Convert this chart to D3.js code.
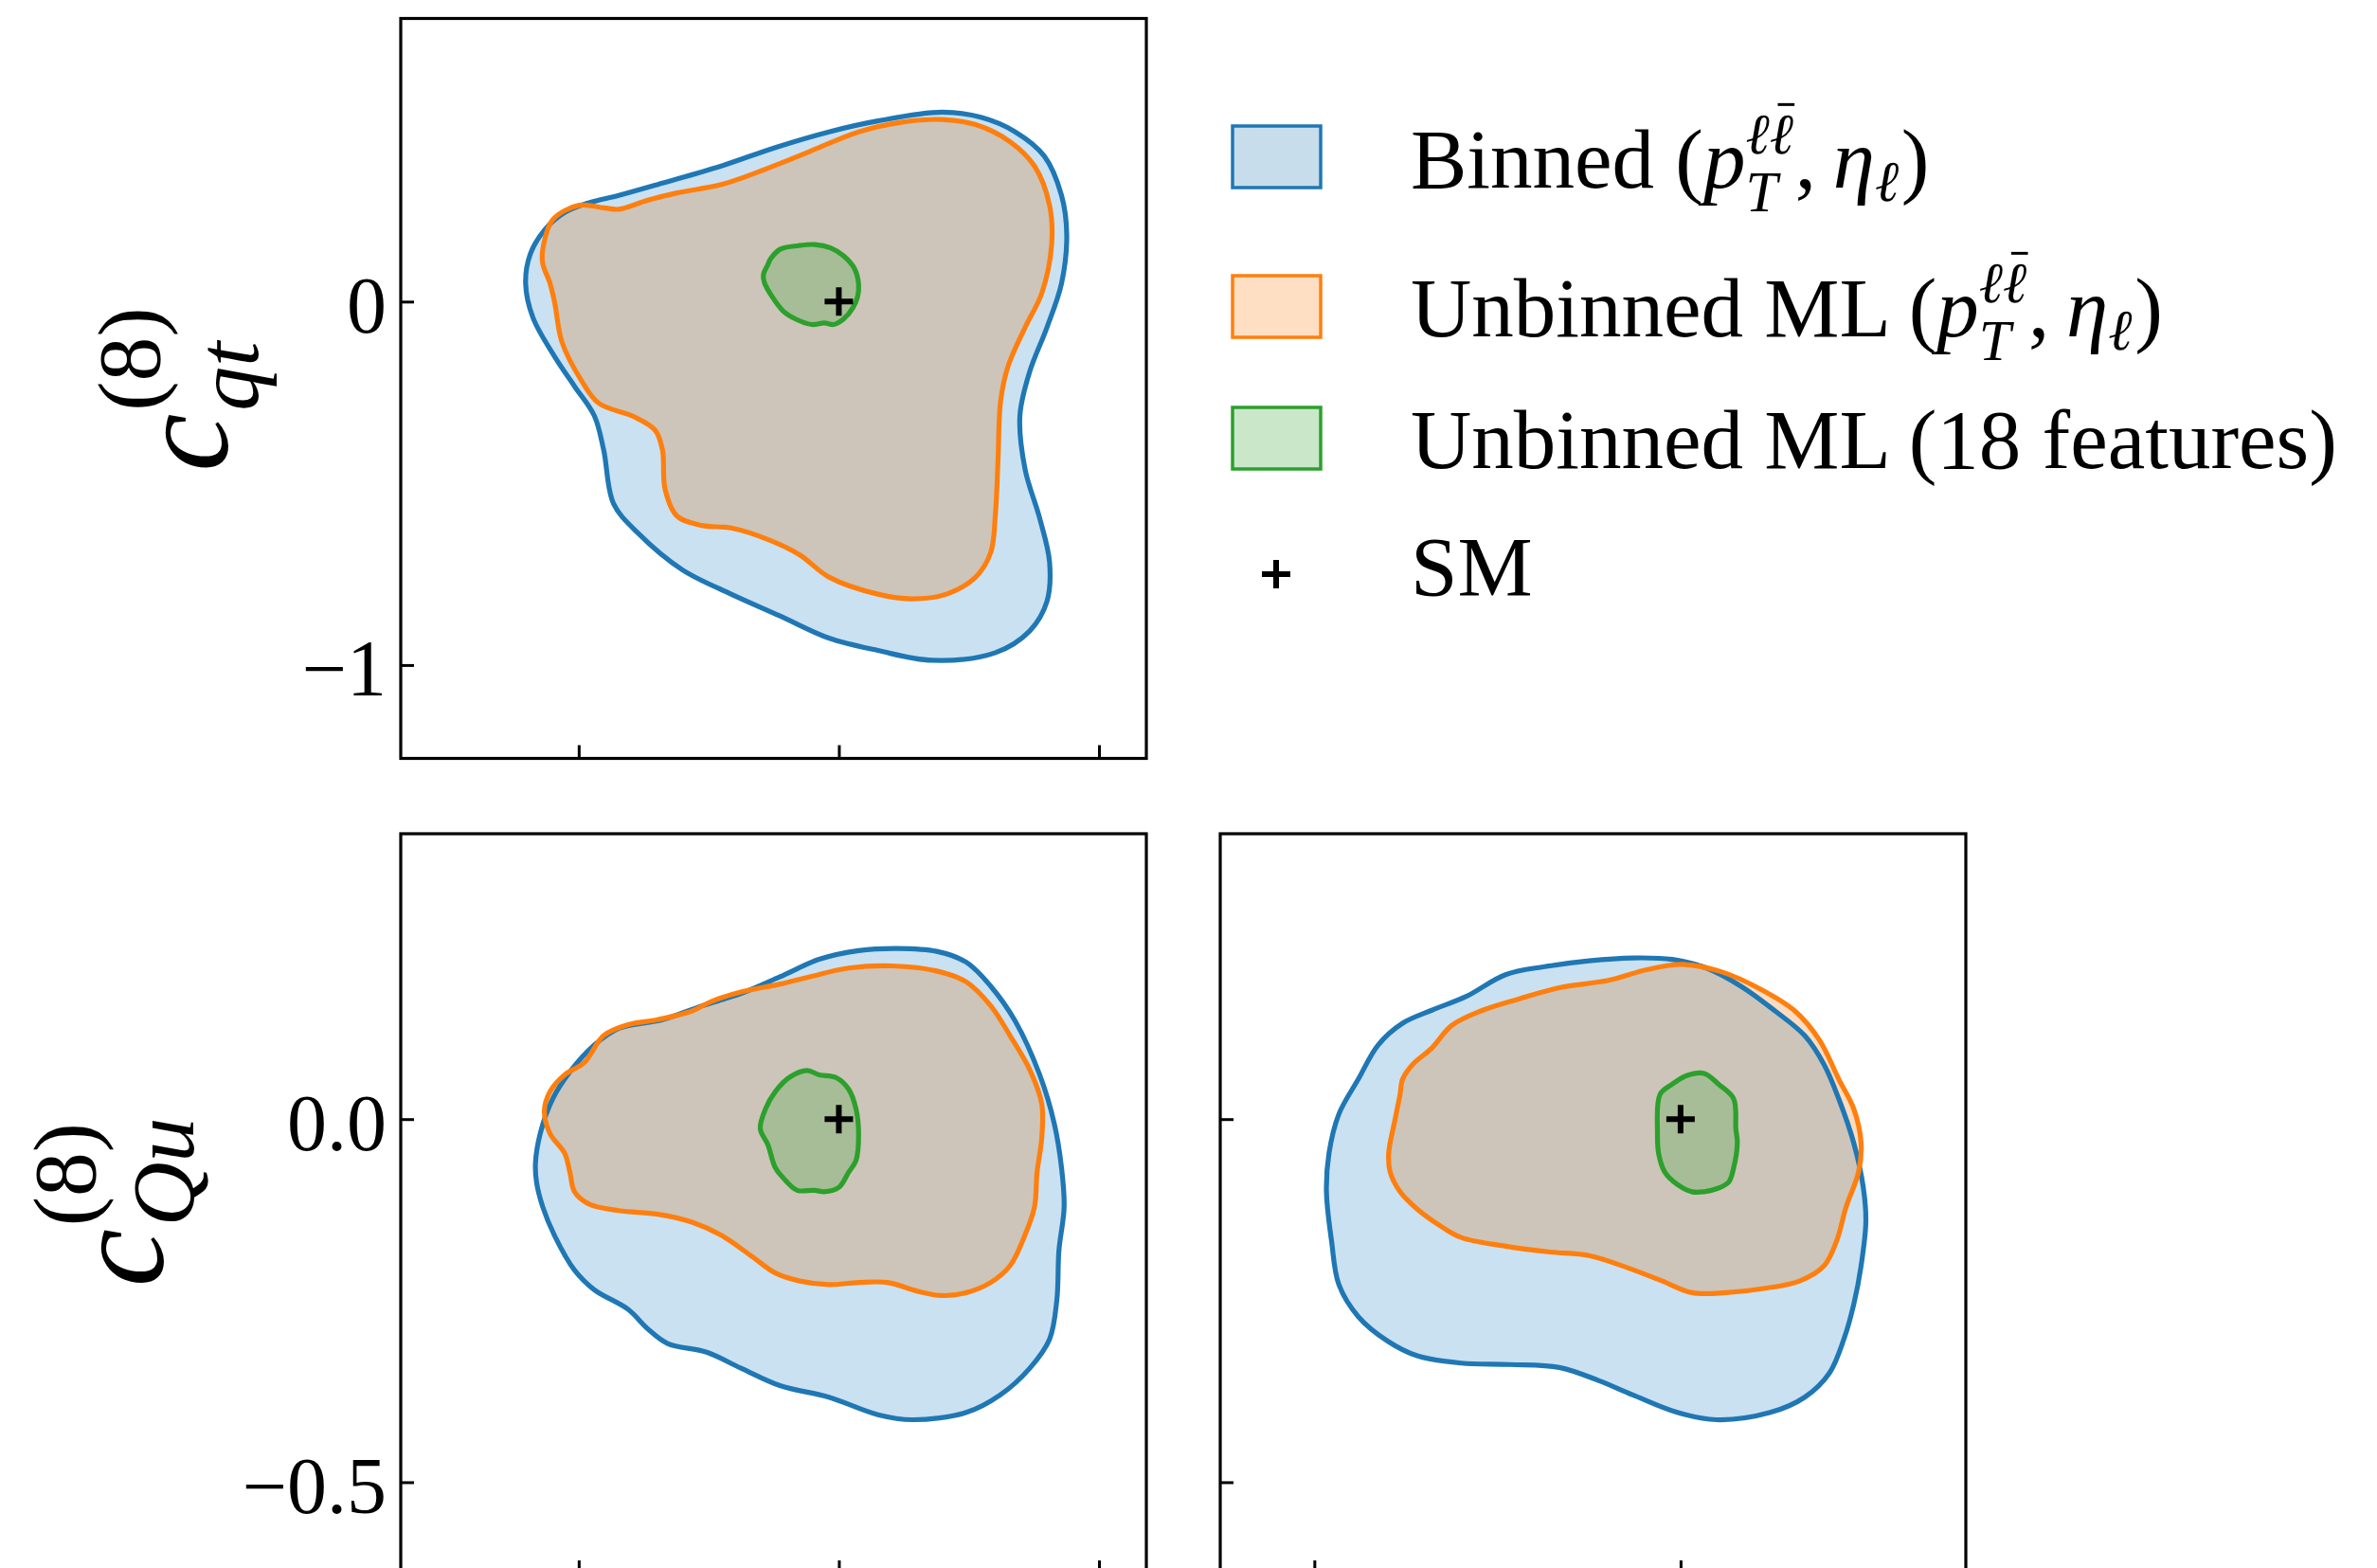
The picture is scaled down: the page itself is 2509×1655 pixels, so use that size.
<!DOCTYPE html>
<html>
<head>
<meta charset="utf-8">
<script src="https://cdn.jsdelivr.net/npm/d3@7"></script>
<style>
  html, body { margin: 0; padding: 0; background: #fff; }
  svg { display: block; }
  text { font-family: "Liberation Serif", "Times New Roman", serif; fill: #000; }
</style>
</head>
<body>
<svg id="fig" width="2509" height="1655"></svg>
<script>
// ---------------- data ----------------
// axis limits of the three coefficients
const xColRange = [-0.842, 0.591];   // first-column coefficient
const cqtRange  = [-1.257, 0.779];   // c_qt^(8)
const cquRange  = [-0.626, 0.393];   // c_Qu^(8)

// tick positions and labels
const xColTicks = [-0.5, 0, 0.5];
const cqtTicks = [-1, 0];
const cqtTickLabels = ["\u22121", "0"];
const cquTicks = [-0.5, 0];
const cquTickLabels = ["\u22120.5", "0.0"];

// Standard Model point
const smPoint = [0, 0];

// legend entries
const seriesNames = ["Binned", "Unbinned ML", "Unbinned ML (18 features)", "SM"];

// 68% contours, [x, y] pairs
// top-left: x = first-column coefficient, y = c_qt
const binnedTL = [[-0.602,0.050],[-0.593,0.131],[-0.565,0.198],[-0.527,0.245],[-0.480,0.272],[-0.423,0.292],[-0.339,0.326],[-0.226,0.373],[-0.122,0.424],[-0.019,0.467],[0.075,0.497],[0.198,0.521],[0.273,0.507],[0.339,0.467],[0.395,0.400],[0.428,0.292],[0.438,0.184],[0.428,0.050],[0.400,-0.071],[0.367,-0.192],[0.348,-0.314],[0.358,-0.462],[0.386,-0.596],[0.405,-0.717],[0.400,-0.825],[0.367,-0.906],[0.301,-0.966],[0.179,-0.987],[0.075,-0.960],[-0.019,-0.926],[-0.113,-0.865],[-0.207,-0.805],[-0.301,-0.738],[-0.386,-0.637],[-0.433,-0.556],[-0.452,-0.408],[-0.470,-0.314],[-0.508,-0.233],[-0.546,-0.152],[-0.588,-0.044]];
const unbinnedTL = [[-0.569,0.144],[-0.550,0.225],[-0.499,0.265],[-0.452,0.258],[-0.423,0.254],[-0.367,0.279],[-0.311,0.299],[-0.226,0.322],[-0.151,0.359],[-0.056,0.413],[0.038,0.467],[0.122,0.494],[0.198,0.501],[0.263,0.487],[0.329,0.440],[0.376,0.373],[0.405,0.265],[0.409,0.157],[0.390,0.023],[0.358,-0.071],[0.325,-0.179],[0.311,-0.273],[0.306,-0.435],[0.301,-0.583],[0.292,-0.690],[0.263,-0.758],[0.207,-0.805],[0.141,-0.818],[0.075,-0.805],[-0.019,-0.758],[-0.075,-0.697],[-0.132,-0.657],[-0.207,-0.623],[-0.263,-0.616],[-0.311,-0.590],[-0.334,-0.516],[-0.339,-0.408],[-0.353,-0.354],[-0.395,-0.316],[-0.461,-0.280],[-0.494,-0.219],[-0.532,-0.112],[-0.546,-0.004],[-0.555,0.050],[-0.569,0.104]];
const fullTL = [[-0.131,0.118],[-0.113,0.144],[-0.077,0.154],[-0.046,0.157],[-0.016,0.148],[0.009,0.126],[0.030,0.091],[0.038,0.048],[0.036,0.013],[0.027,-0.017],[0.009,-0.048],[-0.010,-0.063],[-0.028,-0.059],[-0.052,-0.063],[-0.083,-0.048],[-0.107,-0.026],[-0.128,0.013],[-0.143,0.052],[-0.145,0.074],[-0.137,0.100]];

// bottom-left: x = first-column coefficient, y = c_Qu
const binnedBL = [[-0.583,-0.060],[-0.574,-0.020],[-0.550,0.028],[-0.517,0.065],[-0.470,0.102],[-0.423,0.125],[-0.339,0.137],[-0.263,0.156],[-0.188,0.173],[-0.113,0.196],[-0.038,0.220],[0.038,0.232],[0.113,0.235],[0.188,0.231],[0.245,0.216],[0.292,0.183],[0.339,0.135],[0.386,0.061],[0.414,-0.006],[0.428,-0.067],[0.433,-0.121],[0.423,-0.181],[0.419,-0.249],[0.405,-0.303],[0.367,-0.343],[0.310,-0.380],[0.245,-0.404],[0.141,-0.414],[0.075,-0.407],[-0.019,-0.383],[-0.113,-0.367],[-0.188,-0.343],[-0.254,-0.321],[-0.329,-0.309],[-0.367,-0.289],[-0.405,-0.262],[-0.470,-0.235],[-0.508,-0.208],[-0.546,-0.161],[-0.569,-0.121],[-0.581,-0.087]];
const unbinnedBL = [[-0.566,0.011],[-0.555,0.038],[-0.527,0.061],[-0.489,0.078],[-0.452,0.115],[-0.405,0.130],[-0.348,0.137],[-0.282,0.149],[-0.245,0.162],[-0.188,0.175],[-0.113,0.186],[-0.056,0.196],[0.019,0.208],[0.103,0.211],[0.188,0.204],[0.245,0.189],[0.292,0.156],[0.329,0.115],[0.367,0.068],[0.390,0.021],[0.390,-0.026],[0.381,-0.073],[0.376,-0.121],[0.357,-0.161],[0.329,-0.202],[0.292,-0.225],[0.245,-0.239],[0.198,-0.243],[0.151,-0.237],[0.094,-0.225],[0.038,-0.225],[-0.019,-0.228],[-0.075,-0.223],[-0.122,-0.212],[-0.169,-0.188],[-0.226,-0.160],[-0.282,-0.142],[-0.348,-0.131],[-0.423,-0.126],[-0.480,-0.117],[-0.508,-0.100],[-0.517,-0.073],[-0.527,-0.047],[-0.555,-0.020]];
const fullBL = [[-0.151,-0.013],[-0.141,0.014],[-0.122,0.038],[-0.094,0.058],[-0.061,0.067],[-0.038,0.061],[-0.005,0.057],[0.019,0.041],[0.033,0.014],[0.038,-0.020],[0.033,-0.057],[0.019,-0.073],[0.000,-0.094],[-0.028,-0.100],[-0.047,-0.098],[-0.080,-0.098],[-0.103,-0.084],[-0.122,-0.067],[-0.136,-0.036]];

// bottom-right: x = c_qt, y = c_Qu
const binnedBR = [[-0.967,-0.100],[-0.960,-0.047],[-0.933,0.007],[-0.880,0.055],[-0.826,0.102],[-0.759,0.132],[-0.679,0.150],[-0.585,0.169],[-0.478,0.199],[-0.371,0.210],[-0.250,0.218],[-0.130,0.222],[-0.023,0.220],[0.071,0.208],[0.165,0.183],[0.258,0.149],[0.339,0.115],[0.392,0.075],[0.432,0.028],[0.473,-0.033],[0.499,-0.094],[0.506,-0.141],[0.493,-0.202],[0.473,-0.255],[0.446,-0.303],[0.406,-0.350],[0.339,-0.383],[0.245,-0.404],[0.098,-0.414],[-0.009,-0.404],[-0.130,-0.380],[-0.224,-0.360],[-0.331,-0.342],[-0.465,-0.338],[-0.599,-0.336],[-0.719,-0.326],[-0.799,-0.306],[-0.880,-0.272],[-0.933,-0.228],[-0.953,-0.168]];
const unbinnedBR = [[-0.797,-0.047],[-0.779,0.001],[-0.766,0.034],[-0.759,0.055],[-0.732,0.075],[-0.679,0.098],[-0.625,0.129],[-0.545,0.149],[-0.438,0.166],[-0.331,0.181],[-0.197,0.191],[-0.090,0.206],[0.004,0.213],[0.111,0.203],[0.218,0.179],[0.312,0.149],[0.379,0.109],[0.432,0.055],[0.473,0.014],[0.493,-0.033],[0.486,-0.073],[0.452,-0.121],[0.426,-0.168],[0.392,-0.202],[0.325,-0.223],[0.232,-0.233],[0.124,-0.239],[0.031,-0.239],[-0.050,-0.223],[-0.143,-0.205],[-0.250,-0.188],[-0.357,-0.183],[-0.478,-0.175],[-0.599,-0.163],[-0.665,-0.144],[-0.719,-0.124],[-0.766,-0.100],[-0.793,-0.073]];
const fullBR = [[-0.056,0.034],[-0.023,0.048],[0.017,0.060],[0.064,0.063],[0.104,0.048],[0.145,0.028],[0.151,-0.013],[0.155,-0.033],[0.145,-0.067],[0.131,-0.087],[0.098,-0.096],[0.064,-0.100],[0.031,-0.100],[-0.009,-0.090],[-0.043,-0.073],[-0.060,-0.047],[-0.063,-0.020]];

// ---------------- style ----------------
const C = {
  blue: "#1f77b4", orange: "#ff7f0e", green: "#2ca02c",
  blueFill: "#cae1f2", orangeFill: "#fcdcc0", overlapFill: "#cdc5b9", greenFill: "#a7bd97",
  blueLegend: "rgba(31,119,180,0.25)", orangeLegend: "rgba(255,127,14,0.25)", greenLegend: "rgba(44,160,44,0.25)"
};
const LW = 5.2, SPINE = 3.2, TICK = 14, TICKFONT = 84;
const PW = 787, PH = 781;
const colX = [423, 1288], rowY = [19.5, 880];
const PLUS = "M-15,0H15M0,-15V15";

const svg = d3.select("#fig");
svg.append("rect").attr("width", 2509).attr("height", 1655).attr("fill", "#fff");
const defs = svg.append("defs");

// scales
const xCol = d3.scaleLinear().domain(xColRange).range([colX[0], colX[0] + PW]);
const xCqt = d3.scaleLinear().domain(cqtRange).range([colX[1], colX[1] + PW]);
const yCqt = d3.scaleLinear().domain(cqtRange).range([rowY[0] + PH, rowY[0]]);
const yCqu = d3.scaleLinear().domain(cquRange).range([rowY[1] + PH, rowY[1]]);

const panels = [
  { id: "tl", left: colX[0], top: rowY[0], xs: xCol, ys: yCqt, xt: xColTicks, yt: cqtTicks, ytl: cqtTickLabels,
    sets: [binnedTL, unbinnedTL, fullTL] },
  { id: "bl", left: colX[0], top: rowY[1], xs: xCol, ys: yCqu, xt: xColTicks, yt: cquTicks, ytl: cquTickLabels,
    sets: [binnedBL, unbinnedBL, fullBL] },
  { id: "br", left: colX[1], top: rowY[1], xs: xCqt, ys: yCqu, xt: cqtTicks, yt: cquTicks, ytl: null,
    sets: [binnedBR, unbinnedBR, fullBR] }
];

panels.forEach(p => {
  const line = d3.line().x(d => p.xs(d[0])).y(d => p.ys(d[1]))
    .curve(d3.curveCatmullRomClosed.alpha(0.5));
  const [bin, unb, full] = p.sets;

  defs.append("clipPath").attr("id", "frame-" + p.id)
    .append("rect").attr("x", p.left).attr("y", p.top).attr("width", PW).attr("height", PH);
  defs.append("clipPath").attr("id", "bin-" + p.id).append("path").attr("d", line(bin));

  const g = svg.append("g").attr("clip-path", `url(#frame-${p.id})`);
  // fills
  g.append("path").attr("d", line(bin)).attr("fill", C.blueFill);
  g.append("path").attr("d", line(unb)).attr("fill", C.orangeFill);
  g.append("path").attr("d", line(unb)).attr("fill", C.overlapFill).attr("clip-path", `url(#bin-${p.id})`);
  g.append("path").attr("d", line(full)).attr("fill", C.greenFill);
  // outlines
  [[bin, C.blue], [unb, C.orange], [full, C.green]].forEach(([d, c]) =>
    g.append("path").attr("d", line(d)).attr("fill", "none").attr("stroke", c)
      .attr("stroke-width", LW).attr("stroke-linejoin", "round"));
  // SM marker
  g.append("path").attr("transform", `translate(${p.xs(smPoint[0])},${p.ys(smPoint[1])})`)
    .attr("d", PLUS).attr("stroke", "#000").attr("stroke-width", 6);

  // axes with inward ticks
  const yAx = d3.axisLeft(p.ys).tickValues(p.yt).tickSize(-TICK).tickPadding(15)
    .tickFormat((d, i) => p.ytl ? p.ytl[i] : "");
  const ya = svg.append("g").attr("transform", `translate(${p.left},0)`).call(yAx);
  ya.select(".domain").remove();
  ya.selectAll(".tick line").attr("stroke", "#000").attr("stroke-width", 3);
  ya.selectAll(".tick text").attr("font-size", TICKFONT).attr("dy", "0.38em")
    .attr("font-family", "Liberation Serif, serif");

  const xAx = d3.axisBottom(p.xs).tickValues(p.xt).tickSize(-TICK).tickFormat("");
  const xa = svg.append("g").attr("transform", `translate(0,${p.top + PH})`).call(xAx);
  xa.select(".domain").remove();
  xa.selectAll(".tick line").attr("stroke", "#000").attr("stroke-width", 3);

  svg.append("rect").attr("x", p.left).attr("y", p.top).attr("width", PW).attr("height", PH)
    .attr("fill", "none").attr("stroke", "#000").attr("stroke-width", SPINE);
});

// ---------------- math-style text layout ----------------
function layoutMath(g, runs, size) {
  let x = 0;
  runs.forEach(r => {
    if (r.t !== undefined) {
      const t = g.append("text").attr("x", x).attr("y", 0).attr("font-size", size)
        .attr("font-style", r.it ? "italic" : "normal").text(r.t);
      x += t.node().getComputedTextLength() + (r.kern || 0) * size;
    } else {
      const ss = size * r.scale;
      let w = 0;
      if (r.sub) {
        const t = g.append("text").attr("x", x + (r.subKern || 0) * size).attr("y", r.subShift * size)
          .attr("font-size", ss).attr("font-style", r.subIt === false ? "normal" : "italic").text(r.sub);
        w = Math.max(w, t.node().getComputedTextLength() + (r.subKern || 0) * size);
      }
      if (r.sup) {
        const t = g.append("text").attr("x", x + (r.supKern || 0) * size).attr("y", -r.supShift * size)
          .attr("font-size", ss).attr("font-style", r.supIt === false ? "normal" : "italic").text(r.sup);
        w = Math.max(w, t.node().getComputedTextLength() + (r.supKern || 0) * size);
        if (r.bar !== undefined) {
          const e = t.node().getExtentOfChar(r.bar);
          const by = -r.supShift * size - 0.86 * ss;
          g.append("line").attr("x1", e.x + e.width * 0.35).attr("x2", e.x + e.width * 1.05)
            .attr("y1", by).attr("y2", by).attr("stroke", "#000").attr("stroke-width", 3);
        }
      }
      x += w + (r.after || 0) * size;
    }
  });
  return x;
}

// axis titles (rotated)
function axisTitle(xBase, yCenter, sub) {
  const g = svg.append("g");
  const w = layoutMath(g, [
    { t: "c", it: true, kern: 0.02 },
    { sub: sub, sup: "(8)", supIt: false, scale: 0.68, subShift: 0.23, supShift: 0.52 }
  ], 138);
  g.attr("transform", `translate(${xBase},${yCenter}) rotate(-90) translate(${-w / 2},0)`);
}
axisTitle(240, 411, "qt");
axisTitle(172, 1269, "Qu");

// ---------------- legend ----------------
const LEG_X = 1301, LEG_W = 93, LEG_H = 65, TEXT_X = 1489, LEGFONT = 89;
const legRows = [
  { fill: C.blueLegend, stroke: C.blue, top: 133, base: 198,
    runs: [{ t: seriesNames[0] + " (" }, { t: "p", it: true },
           { sub: "T", sup: "\u2113\u2113", bar: 1, scale: 0.68, subShift: 0.28, supShift: 0.40, after: 0.02 },
           { t: "," }, { t: "\u2009" }, { t: "\u03B7", it: true },
           { sub: "\u2113", scale: 0.68, subShift: 0.16, after: 0.03 }, { t: ")" }] },
  { fill: C.orangeLegend, stroke: C.orange, top: 291, base: 355,
    runs: [{ t: seriesNames[1] + " (" }, { t: "p", it: true },
           { sub: "T", sup: "\u2113\u2113", bar: 1, scale: 0.68, subShift: 0.28, supShift: 0.40, after: 0.02 },
           { t: "," }, { t: "\u2009" }, { t: "\u03B7", it: true },
           { sub: "\u2113", scale: 0.68, subShift: 0.16, after: 0.03 }, { t: ")" }] },
  { fill: C.greenLegend, stroke: C.green, top: 430, base: 494,
    runs: [{ t: seriesNames[2] }] }
];
legRows.forEach(r => {
  svg.append("rect").attr("x", LEG_X).attr("y", r.top).attr("width", LEG_W).attr("height", LEG_H)
    .attr("fill", r.fill).attr("stroke", r.stroke).attr("stroke-width", 3.5);
  const g = svg.append("g").attr("transform", `translate(${TEXT_X},${r.base})`);
  layoutMath(g, r.runs, LEGFONT);
});
svg.append("path").attr("transform", "translate(1347,606)")
  .attr("d", PLUS).attr("stroke", "#000").attr("stroke-width", 6);
svg.append("text").attr("x", TEXT_X).attr("y", 628).attr("font-size", LEGFONT).text(seriesNames[3]);
</script>
</body>
</html>
